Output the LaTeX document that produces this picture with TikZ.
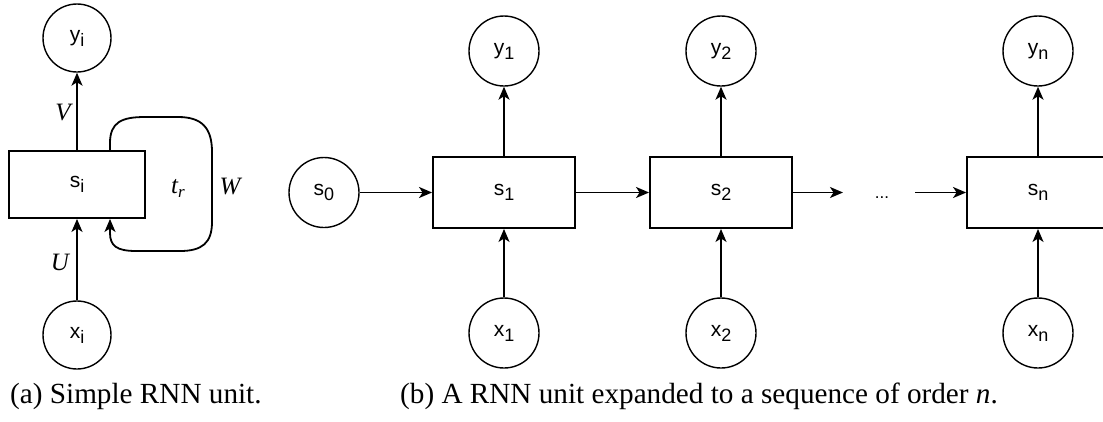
\documentclass[tikz,border=0pt]{standalone}
\usepackage{fontspec}
\setmainfont{Liberation Serif}
\setsansfont{Liberation Sans}
\usetikzlibrary{arrows.meta}
\newcommand\lbl[2]{{\sffamily\fontsize{21}{24}\selectfont #1\raisebox{-5pt}{\fontsize{18}{20}\selectfont #2}}}
\newcommand\mysubr{{\itshape t\raisebox{-4pt}{\fontsize{17}{18}\selectfont r}}}
\begin{document}
\begin{tikzpicture}[x=1pt,y=-1pt,
  circ/.style={circle,draw,line width=1.4pt,minimum size=70pt,inner sep=0pt},
  cell/.style={rectangle,draw,line width=1.9pt,minimum width=142pt,minimum height=71pt,inner sep=0pt},
  conn/.style={line width=1.8pt,-{Stealth[length=13pt,width=11pt,inset=3.5pt]}},
  mlab/.style={font=\fontsize{25}{28}\selectfont\itshape,inner sep=0pt},
  captext/.style={font=\fontsize{29.2}{34}\selectfont,anchor=base west,inner sep=0pt}]
\useasboundingbox (0,0) rectangle (1103,421);
% left unit
\node[circ,minimum size=68pt] (yi) at (77,38) {\lbl{y}{i}};
\node[cell,minimum width=136pt,minimum height=67pt] (si) at (77,184.5) {\lbl{s}{i}};
\node[circ,minimum size=68pt] (xi) at (77,335) {\lbl{x}{i}};
\draw[conn] (si) -- (yi);
\draw[conn] (xi) -- (si);
\node[mlab] (V) at (63,113) {V};
\node[mlab] (U) at (60,262) {U};
\draw[conn] ([xshift=33pt]si.north) -- (110,143)
  .. controls (110,122) and (122,117) .. (145,117) -- (178,117)
  .. controls (202,117) and (212,128) .. (212,152) -- (212,222)
  .. controls (212,243) and (202,251) .. (180,251) -- (136,251)
  .. controls (117,251) and (110,246) .. (110,233) -- ([xshift=33pt]si.south);
\node[mlab] (tr) at (178,188) {\mysubr};
\node[mlab] (W) at (230,186) {W};
% right unrolled
\node[circ] (s0) at (324,192.5) {\lbl{s}{0}};
\node[cell] (s1) at (504,192.5) {\lbl{s}{1}};
\node[cell] (s2) at (721,192.5) {\lbl{s}{2}};
\node[cell] (sn) at (1038,192.5) {\lbl{s}{n}};
\node[circ] (y1) at (504,51) {\lbl{y}{1}};
\node[circ] (y2) at (721,51) {\lbl{y}{2}};
\node[circ] (yn) at (1038,51) {\lbl{y}{n}};
\node[circ] (x1) at (504,333) {\lbl{x}{1}};
\node[circ] (x2) at (721,333) {\lbl{x}{2}};
\node[circ] (xn) at (1038,333) {\lbl{x}{n}};
\node (dots) at (882,198) {\sffamily\fontsize{17}{18}\selectfont ...};
\coordinate (d1) at (843,192.5);
\coordinate (d2) at (915,192.5);
\draw[conn] (s0) -- (s1);
\draw[conn] (s1) -- (s2);
\draw[conn] (s2.east) -- (d1);
\draw[conn] (d2) -- (sn.west);
\draw[conn] (s1) -- (y1);
\draw[conn] (s2) -- (y2);
\draw[conn] (sn) -- (yn);
\draw[conn] (x1) -- (s1);
\draw[conn] (x2) -- (s2);
\draw[conn] (xn) -- (sn);
% captions
\node[captext] (capa) at (10,403) {(a) Simple RNN unit.};
\node[captext] (capb) at (400,403) {(b) A RNN unit expanded to a sequence of order \textit{n}.};
\end{tikzpicture}
\end{document}
